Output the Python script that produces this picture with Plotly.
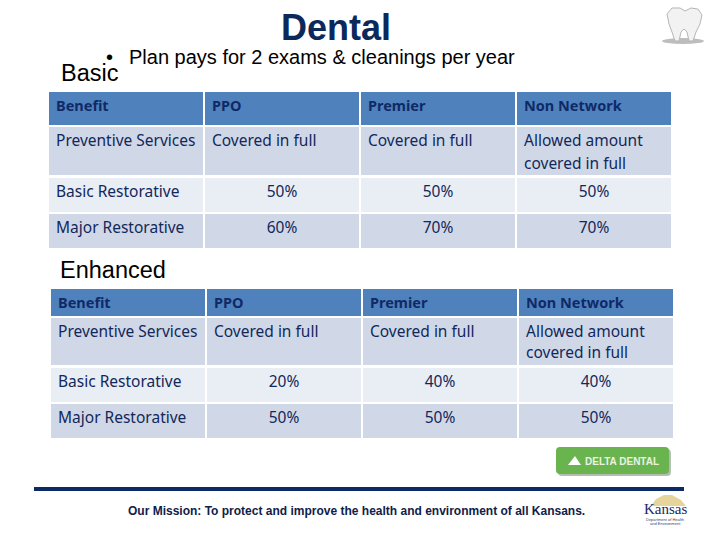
import plotly.graph_objects as go

headers = ["Benefit", "PPO", "Premier", "Non Network"]

# Basic table
preventive_top = ["Preventive\u00a0Services", "Covered in full", "Covered in full", "Allowed amount"]
basic_top = ["Basic Restorative", "50%", "50%", "50%"]
major_top = ["Major Restorative", "60%", "70%", "70%"]

# Enhanced table
preventive_low = ["Preventive\u00a0Services", "Covered in full", "Covered in full", "Allowed amount"]
basic_low = ["Basic Restorative", "20%", "40%", "40%"]
major_low = ["Major Restorative", "50%", "50%", "50%"]

second_line = "covered in full"

W, H = 720, 540
NAVY = "#12285a"
HEAD_INK = "#0f2a66"
HEAD_BG = "#4f81bd"
ROW_A = "#d0d8e8"
ROW_B = "#e9edf4"
BODY_FONT = "Noto Sans"
LINE = dict(color="white", width=1.5)


def px(x):
    return x / W


def py(y):
    return 1 - y / H


def pts(points):
    # pixel points -> svg path in paper coords
    s = "M" + " L".join(f"{px(a):.4f},{py(b):.4f}" for a, b in points)
    return s + " Z"


def head_table(row, x0, x1, y0, y1, head_h, row_h):
    # header labels go on as annotations, table headers refuse to get this thin
    return go.Table(
        domain=dict(x=[px(x0), px(x1)], y=[py(y1), py(y0)]),
        header=dict(
            values=[" "] * 4, fill_color=HEAD_BG, line=LINE,
            align="left", height=head_h, font=dict(family=BODY_FONT, size=8, color=HEAD_INK),
        ),
        cells=dict(
            values=[[v] for v in row], fill_color=ROW_A, line=LINE,
            align="left", height=row_h,
            font=dict(family=BODY_FONT, size=15.5, color=NAVY),
        ),
    )


def pct_table(row1, row2, x0, x1, y0, y1, row_h):
    al = ["left", "center", "center", "center"]
    font = dict(family=BODY_FONT, size=15.5, color=NAVY)
    return go.Table(
        domain=dict(x=[px(x0), px(x1)], y=[py(y1), py(y0)]),
        header=dict(values=row1, fill_color=ROW_B, line=LINE, align=al, height=row_h, font=font),
        cells=dict(values=[[v] for v in row2], fill_color=ROW_A, line=LINE, align=al, height=row_h, font=font),
    )


fig = go.Figure()
fig.add_trace(head_table(preventive_top, 48, 672, 91, 177, 35, 50))
fig.add_trace(pct_table(basic_top, major_top, 48, 672, 177, 250, 36))
fig.add_trace(head_table(preventive_low, 50, 674, 288, 367, 29, 49))
fig.add_trace(pct_table(basic_low, major_low, 50, 674, 367, 440, 36))


def label(x, y, text, size, color="black", family="Liberation Sans", anchor="left"):
    fig.add_annotation(
        x=px(x), y=py(y), xref="paper", yref="paper", text=text, showarrow=False,
        xanchor=anchor, yanchor="middle", font=dict(family=family, size=size, color=color),
    )


for i, h in enumerate(headers):
    label(54 + 156 * i, 105, "<b>" + h + "</b>", 14.5, color=HEAD_INK, family=BODY_FONT)
    label(56 + 156 * i, 302, "<b>" + h + "</b>", 14.5, color=HEAD_INK, family=BODY_FONT)

label(522, 163, second_line, 15.5, color=NAVY, family=BODY_FONT)
label(524, 352, second_line, 15.5, color=NAVY, family=BODY_FONT)

label(336, 27, "<b>Dental</b>", 36, color="#0b2a5b", anchor="center")
label(104, 57, "•", 20)
label(127, 57, "Plan pays for 2 exams &amp; cleanings per year", 20)
label(59, 73, "Basic", 23.5)
label(58, 270, "Enhanced", 23.5)
label(356, 511, "<b>Our Mission: To protect and improve the health and environment of all Kansans.</b>", 12,
      color="#10204a", anchor="center")

# footer rule
fig.add_shape(type="rect", xref="paper", yref="paper", x0=px(34), x1=px(684), y0=py(491), y1=py(487),
              fillcolor="#0b2a66", line_width=0)


def round_box(x0, y0, x1, y1, r, color):
    path = (f"M{px(x0 + r):.4f},{py(y0):.4f} L{px(x1 - r):.4f},{py(y0):.4f} Q{px(x1):.4f},{py(y0):.4f} {px(x1):.4f},{py(y0 + r):.4f} "
            f"L{px(x1):.4f},{py(y1 - r):.4f} Q{px(x1):.4f},{py(y1):.4f} {px(x1 - r):.4f},{py(y1):.4f} "
            f"L{px(x0 + r):.4f},{py(y1):.4f} Q{px(x0):.4f},{py(y1):.4f} {px(x0):.4f},{py(y1 - r):.4f} "
            f"L{px(x0):.4f},{py(y0 + r):.4f} Q{px(x0):.4f},{py(y0):.4f} {px(x0 + r):.4f},{py(y0):.4f} Z")
    fig.add_shape(type="path", xref="paper", yref="paper", path=path, fillcolor=color, line_width=0)


# delta dental badge
round_box(558, 449, 671, 476, 4, "#b5bdb3")
round_box(556, 447, 669, 474, 4, "#69b44f")
fig.add_shape(type="path", xref="paper", yref="paper", path=pts([(568, 465), (575, 456), (581, 465)]),
              fillcolor="white", line_width=0)
label(583, 461, "<b>DELTA DENTAL</b>", 10, color="#e8f3e3")

# tooth
fig.add_shape(type="circle", xref="paper", yref="paper", x0=px(662), x1=px(704), y0=py(44), y1=py(38),
              fillcolor="#bdbdbd", line_width=0)
fig.add_shape(type="path", xref="paper", yref="paper",
              path=pts([(667, 14), (672, 8), (680, 8), (685, 11), (691, 8), (698, 9), (702, 15), (700, 24),
                        (696, 32), (693, 41), (689, 41), (687, 32), (684, 29), (681, 32), (679, 41), (675, 41),
                        (672, 32), (669, 24)]),
              fillcolor="#f1f2f1", line=dict(color="#b4b8b5", width=1))

# kansas logo
fig.add_shape(type="path", xref="paper", yref="paper",
              path=pts([(651, 506), (656, 499), (664, 495), (672, 495), (681, 500), (686, 506)]),
              fillcolor="#e6d49a", line_width=0)
label(665, 509, "Kansas", 15, color="#1a2a5a", family="Liberation Serif", anchor="center")
label(665, 519, "Department of Health", 4, color="#3a4566", anchor="center")
label(665, 523, "and Environment", 4, color="#3a4566", anchor="center")

fig.update_layout(
    width=W, height=H, margin=dict(l=0, r=0, t=0, b=0),
    paper_bgcolor="white", plot_bgcolor="white", showlegend=False,
)
# drop the default body margin so the figure sits at the window corner
fig.write_html("out.html", config=dict(displayModeBar=False), post_script="document.body.style.margin='0';")
